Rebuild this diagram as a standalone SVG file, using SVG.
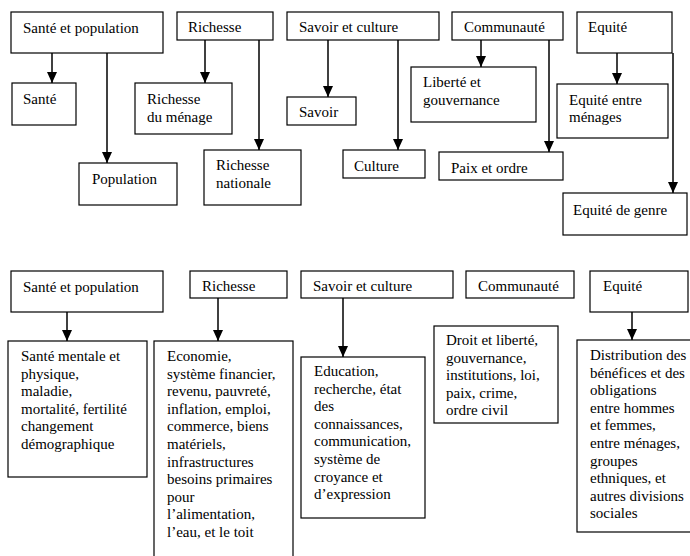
<svg xmlns="http://www.w3.org/2000/svg" width="690" height="556" viewBox="0 0 690 556">
<style>
rect{fill:#fff;stroke:#000;stroke-width:1.2}
text{font-family:"Liberation Serif","DejaVu Serif","Times New Roman",serif;font-size:15px;fill:#000}
.c line{stroke:#000;stroke-width:1.5;marker-end:url(#ah)}
</style>
<defs>
<marker id="ah" markerUnits="userSpaceOnUse" markerWidth="11" markerHeight="10" refX="11" refY="5" orient="auto" viewBox="0 0 11 10">
<path d="M0,0 L11,5 L0,10 Z" fill="#000"/>
</marker>
</defs>
<rect width="690" height="556" style="fill:#fff;stroke:none"/>
<g font-family="'Liberation Serif', 'DejaVu Serif', serif" font-size="15">
<g id="t-sante-pop"><rect x="11" y="12" width="152" height="41"/><text x="23" y="33">Santé et population</text></g>
<g id="t-richesse"><rect x="177" y="12" width="96" height="28"/><text x="188" y="32">Richesse</text></g>
<g id="t-savoir-culture"><rect x="287" y="12" width="152" height="28"/><text x="299" y="32">Savoir et culture</text></g>
<g id="t-communaute"><rect x="452" y="12" width="111" height="28"/><text x="464" y="32">Communauté</text></g>
<g id="t-equite"><rect x="577" y="12" width="95" height="41"/><text x="588" y="32">Equité</text></g>
<g id="t-sante"><rect x="12" y="83" width="64" height="42"/><text x="23" y="104">Santé</text></g>
<g id="t-population"><rect x="79" y="163" width="98" height="42"/><text x="92" y="184">Population</text></g>
<g id="t-richesse-menage"><rect x="135" y="83" width="97" height="51"/><text x="147" y="104">Richesse</text><text x="147" y="122">du ménage</text></g>
<g id="t-richesse-nat"><rect x="204" y="150" width="97" height="55"/><text x="216" y="170">Richesse</text><text x="216" y="188">nationale</text></g>
<g id="t-savoir"><rect x="287" y="97" width="69" height="28"/><text x="299" y="117">Savoir</text></g>
<g id="t-culture"><rect x="343" y="150" width="82" height="28"/><text x="354" y="171">Culture</text></g>
<g id="t-liberte"><rect x="411" y="67" width="125" height="55"/><text x="423" y="87">Liberté et</text><text x="423" y="105">gouvernance</text></g>
<g id="t-paix"><rect x="439" y="152" width="124" height="28"/><text x="451" y="173">Paix et ordre</text></g>
<g id="t-equite-menages"><rect x="557" y="84" width="111" height="54"/><text x="569" y="105">Equité entre</text><text x="569" y="122">ménages</text></g>
<g id="t-equite-genre"><rect x="563" y="193" width="124" height="42"/><text x="573" y="215">Equité de genre</text></g>

<g id="b-sante-pop"><rect x="11" y="271" width="152" height="41"/><text x="23" y="292">Santé et population</text></g>
<g id="b-richesse"><rect x="190" y="271" width="97" height="27"/><text x="202" y="291">Richesse</text></g>
<g id="b-savoir-culture"><rect x="301" y="271" width="152" height="27"/><text x="313" y="291">Savoir et culture</text></g>
<g id="b-communaute"><rect x="466" y="271" width="108" height="27"/><text x="478" y="291">Communauté</text></g>
<g id="b-equite"><rect x="590" y="271" width="98" height="41"/><text x="603" y="291">Equité</text></g>
<g id="b-sante-detail"><rect x="8" y="341" width="139" height="136"/>
<text x="21" y="361">Santé mentale et</text><text x="21" y="378.6">physique,</text><text x="21" y="396.2">maladie,</text><text x="21" y="413.8">mortalité, fertilité</text><text x="21" y="431.4">changement</text><text x="21" y="449">démographique</text></g>
<g id="b-richesse-detail"><rect x="154" y="341" width="139" height="230"/>
<text x="167" y="361">Economie,</text><text x="167" y="378.6">système financier,</text><text x="167" y="396.2">revenu, pauvreté,</text><text x="167" y="413.8">inflation, emploi,</text><text x="167" y="431.4">commerce, biens</text><text x="167" y="449">matériels,</text><text x="167" y="466.6">infrastructures</text><text x="167" y="484.2">besoins primaires</text><text x="167" y="501.8">pour</text><text x="167" y="519.4">l’alimentation,</text><text x="167" y="537">l’eau, et le toit</text></g>
<g id="b-savoir-detail"><rect x="301" y="357" width="124" height="161"/>
<text x="314" y="376">Education,</text><text x="314" y="393.6">recherche, état</text><text x="314" y="411.2">des</text><text x="314" y="428.8">connaissances,</text><text x="314" y="446.4">communication,</text><text x="314" y="464">système de</text><text x="314" y="481.6">croyance et</text><text x="314" y="499.2">d’expression</text></g>
<g id="b-communaute-detail"><rect x="434" y="326" width="124" height="97"/>
<text x="446" y="345">Droit et liberté,</text><text x="446" y="362.6">gouvernance,</text><text x="446" y="380.2">institutions, loi,</text><text x="446" y="397.8">paix, crime,</text><text x="446" y="415.4">ordre civil</text></g>
<g id="b-equite-detail"><rect x="577" y="340" width="120" height="192"/>
<text x="590" y="360">Distribution des</text><text x="590" y="377.6">bénéfices et des</text><text x="590" y="395.2">obligations</text><text x="590" y="412.8">entre hommes</text><text x="590" y="430.4">et femmes,</text><text x="590" y="448">entre ménages,</text><text x="590" y="465.6">groupes</text><text x="590" y="483.2">ethniques, et</text><text x="590" y="500.8">autres divisions</text><text x="590" y="518.4">sociales</text></g>
</g>
<g id="connectors" class="c">
<line x1="52" y1="53" x2="52" y2="83"/>
<line x1="107" y1="53" x2="107" y2="163"/>
<line x1="205" y1="40" x2="205" y2="83"/>
<line x1="259" y1="40" x2="259" y2="150"/>
<line x1="328" y1="40" x2="328" y2="97"/>
<line x1="398" y1="40" x2="398" y2="150"/>
<line x1="481" y1="40" x2="481" y2="67"/>
<line x1="549" y1="40" x2="549" y2="152"/>
<line x1="617" y1="53" x2="617" y2="84"/>
<line x1="673" y1="53" x2="673" y2="193"/>
<line x1="67" y1="312" x2="67" y2="341"/>
<line x1="218" y1="298" x2="218" y2="341"/>
<line x1="343" y1="298" x2="343" y2="357"/>
<line x1="632" y1="312" x2="632" y2="340"/>
</g>
</svg>
